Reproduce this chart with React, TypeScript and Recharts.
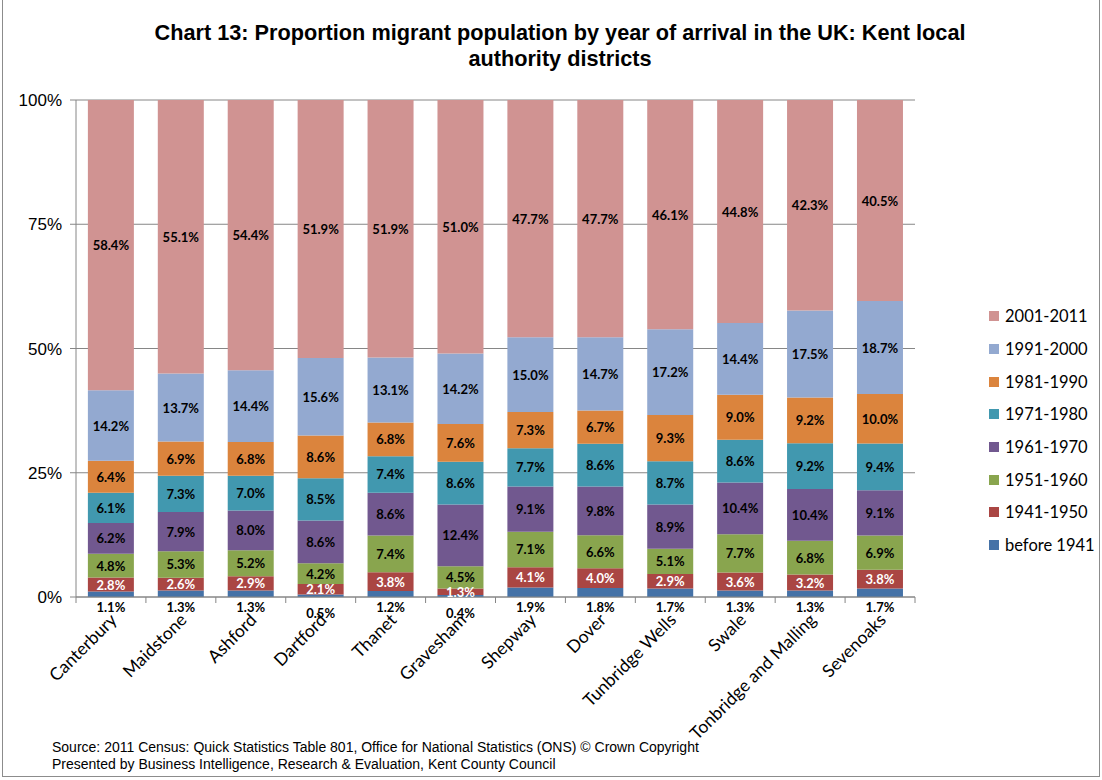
import { Bar, BarChart, CartesianGrid, XAxis, YAxis } from "recharts";

const districts = [
  "Canterbury",
  "Maidstone",
  "Ashford",
  "Dartford",
  "Thanet",
  "Gravesham",
  "Shepway",
  "Dover",
  "Tunbridge Wells",
  "Swale",
  "Tonbridge and Malling",
  "Sevenoaks",
];

const before1941 = [1.1, 1.3, 1.3, 0.5, 1.2, 0.4, 1.9, 1.8, 1.7, 1.3, 1.3, 1.7];
const y1941_1950 = [2.8, 2.6, 2.9, 2.1, 3.8, 1.3, 4.1, 4.0, 2.9, 3.6, 3.2, 3.8];
const y1951_1960 = [4.8, 5.3, 5.2, 4.2, 7.4, 4.5, 7.1, 6.6, 5.1, 7.7, 6.8, 6.9];
const y1961_1970 = [6.2, 7.9, 8.0, 8.6, 8.6, 12.4, 9.1, 9.8, 8.9, 10.4, 10.4, 9.1];
const y1971_1980 = [6.1, 7.3, 7.0, 8.5, 7.4, 8.6, 7.7, 8.6, 8.7, 8.6, 9.2, 9.4];
const y1981_1990 = [6.4, 6.9, 6.8, 8.6, 6.8, 7.6, 7.3, 6.7, 9.3, 9.0, 9.2, 10.0];
const y1991_2000 = [14.2, 13.7, 14.4, 15.6, 13.1, 14.2, 15.0, 14.7, 17.2, 14.4, 17.5, 18.7];
const y2001_2011 = [58.4, 55.1, 54.4, 51.9, 51.9, 51.0, 47.7, 47.7, 46.1, 44.8, 42.3, 40.5];

const yTicks = [0, 0.25, 0.5, 0.75, 1];

const series = [
  { key: "b1941", name: "before 1941", values: before1941, color: "#4572A7", text: "#000" },
  { key: "s1941", name: "1941-1950", values: y1941_1950, color: "#AA4643", text: "#fff" },
  { key: "s1951", name: "1951-1960", values: y1951_1960, color: "#89A54E", text: "#000" },
  { key: "s1961", name: "1961-1970", values: y1961_1970, color: "#71588F", text: "#000" },
  { key: "s1971", name: "1971-1980", values: y1971_1980, color: "#4198AF", text: "#000" },
  { key: "s1981", name: "1981-1990", values: y1981_1990, color: "#DB843D", text: "#000" },
  { key: "s1991", name: "1991-2000", values: y1991_2000, color: "#93A9D0", text: "#000" },
  { key: "s2001", name: "2001-2011", values: y2001_2011, color: "#D09392", text: "#000" },
];

const data = districts.map((d, i) => {
  const row: Record<string, string | number> = { name: d };
  series.forEach((s) => {
    row[s.key] = s.values[i];
  });
  return row;
});

const labelFont = "Lato, 'Open Sans', sans-serif";
const PLOT_W = 1102 - 187 - 16 - 60;
const PLOT_BOTTOM = 780 - 183;
const BAND = PLOT_W / districts.length;

const makeLabel = (sIdx: number) => (props: any) => {
  const { x, y, width, height, index } = props;
  const s = series[sIdx];
  const v = s.values[index];
  const cx = Number(x) + Number(width) / 2;
  let cy = Number(y) + Number(height) / 2;
  if (sIdx === 0) {
    cy = Number(y) + Number(height) + (v < 1 ? 16 : 10);
  }
  return (
    <text
      x={cx}
      y={cy}
      textAnchor="middle"
      dominantBaseline="central"
      fontSize={13}
      fontWeight={700}
      fontFamily={labelFont}
      fill={s.text}
    >
      {v.toFixed(1)}%
    </text>
  );
};

const XTick = (props: any) => {
  const { x, payload, index } = props;
  const last = index === districts.length - 1;
  const ty = PLOT_BOTTOM;
  return (
    <g>
      <line x1={x - BAND / 2} x2={x - BAND / 2} y1={ty} y2={ty + 6} stroke="#868686" />
      {last && (
        <line x1={x + BAND / 2} x2={x + BAND / 2} y1={ty} y2={ty + 6} stroke="#868686" />
      )}
      <text
        transform={`translate(${x + 7}, ${ty + 24}) rotate(-45)`}
        textAnchor="end"
        fontSize={17.5}
        fontFamily={labelFont}
        fill="#000"
      >
        {payload.value}
      </text>
    </g>
  );
};

const App = () => {
  return (
    <div
      style={{
        position: "absolute",
        left: 0,
        top: 0,
        width: 1102,
        height: 780,
        background: "#fff",
        fontFamily: "Arial, 'Liberation Sans', sans-serif",
      }}
    >
      <div
        style={{
          position: "absolute",
          left: 2,
          top: -2,
          width: 1098,
          height: 779,
          border: "1px solid #8c8c8c",
          boxSizing: "border-box",
        }}
      />
      <div
        style={{
          position: "absolute",
          left: 0,
          top: 20,
          width: 1120,
          textAlign: "center",
          fontSize: 21.7,
          fontWeight: 700,
          lineHeight: "26px",
        }}
      >
        Chart 13: Proportion migrant population by year of arrival in the UK: Kent local
        <br />
        authority districts
      </div>
      <BarChart
        width={1102}
        height={780}
        data={data}
        stackOffset="expand"
        barCategoryGap="17%"
        margin={{ top: 100, right: 187, bottom: 0, left: 16 }}
        style={{ position: "absolute", left: 0, top: 0 }}
      >
        <CartesianGrid vertical={false} stroke="#868686" />
        <XAxis
          dataKey="name"
          interval={0}
          tick={<XTick />}
          tickLine={false}
          axisLine={{ stroke: "#868686" }}
          height={183}
        />
        <YAxis
          ticks={yTicks}
          domain={[0, 1]}
          tickFormatter={(v: number) => `${Math.round(v * 100)}%`}
          tick={{ fontSize: 17, fill: "#000", fontFamily: "Arial, 'Liberation Sans', sans-serif" }}
          tickLine={{ stroke: "#868686" }}
          tickSize={6}
          tickMargin={8}
          axisLine={{ stroke: "#868686" }}
          width={60}
        />
        {series.map((s, i) => (
          <Bar
            key={s.key}
            dataKey={s.key}
            name={s.name}
            stackId="a"
            fill={s.color}
            isAnimationActive={false}
            label={makeLabel(i)}
          />
        ))}
      </BarChart>
      <div style={{ position: "absolute", left: 989, top: 300 }}>
        {[...series].reverse().map((s) => (
          <div
            key={s.key}
            style={{
              display: "flex",
              alignItems: "center",
              height: 32.7,
              fontFamily: labelFont,
              fontSize: 16.5,
            }}
          >
            <span
              style={{
                display: "inline-block",
                width: 10,
                height: 10,
                background: s.color,
                marginRight: 6,
              }}
            />
            {s.name}
          </div>
        ))}
      </div>
      <div
        style={{
          position: "absolute",
          left: 52,
          top: 739,
          fontSize: 14,
          lineHeight: "17px",
        }}
      >
        Source: 2011 Census: Quick Statistics Table 801, Office for National Statistics (ONS) © Crown Copyright
        <br />
        Presented by Business Intelligence, Research &amp; Evaluation, Kent County Council
      </div>
    </div>
  );
};

export default App;
